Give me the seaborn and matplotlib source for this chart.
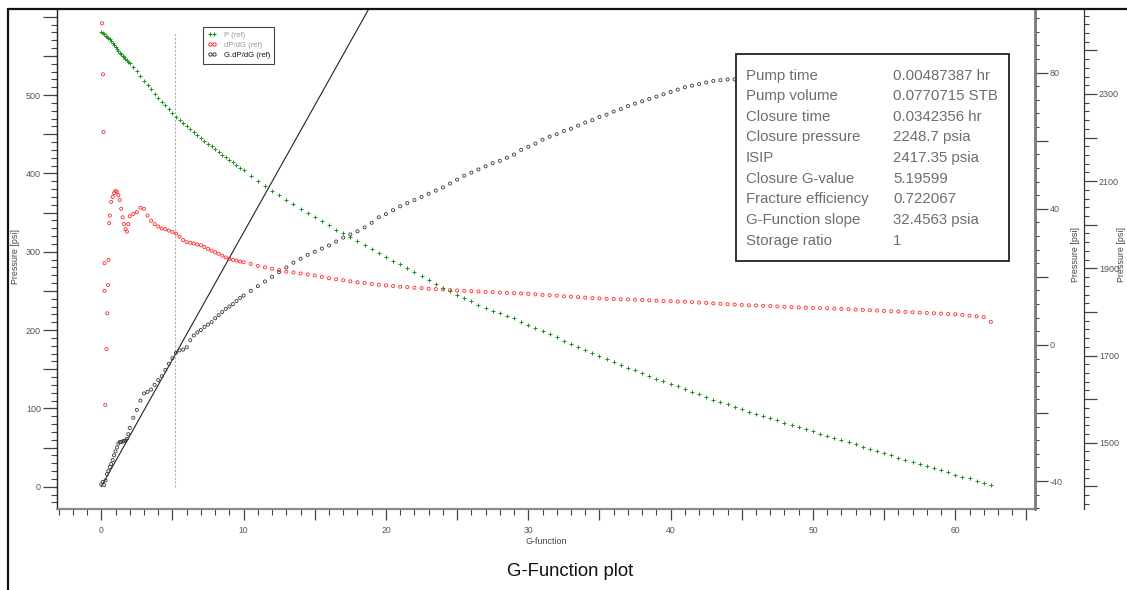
import numpy as np
import pandas as pd
import matplotlib
matplotlib.use("Agg")
import matplotlib.pyplot as plt
import seaborn as sns
from matplotlib.ticker import MultipleLocator, FuncFormatter
from matplotlib.lines import Line2D
from matplotlib.patches import Rectangle

# ---------------- data ----------------
g_values = [
    0.0, 0.1, 0.2, 0.3, 0.4, 0.5, 0.6, 0.7, 0.8, 0.9, 1.0, 1.1, 1.2, 1.3, 1.4, 1.5, 1.6, 1.7, 1.8, 1.9, 2.0,
    2.25, 2.5, 2.75, 3.0, 3.25, 3.5, 3.75, 4.0, 4.25, 4.5, 4.75, 5.0, 5.25, 5.5, 5.75, 6.0,
    6.25, 6.5, 6.75, 7.0, 7.25, 7.5, 7.75, 8.0, 8.25, 8.5, 8.75, 9.0, 9.25, 9.5, 9.75, 10.0,
    10.5, 11.0, 11.5, 12.0, 12.5, 13.0, 13.5, 14.0, 14.5, 15.0, 15.5, 16.0, 16.5, 17.0, 17.5, 18.0,
    18.5, 19.0, 19.5, 20.0, 20.5, 21.0, 21.5, 22.0, 22.5, 23.0, 23.5, 24.0, 24.5, 25.0, 25.5, 26.0,
    26.5, 27.0, 27.5, 28.0, 28.5, 29.0, 29.5, 30.0,
    30.5, 31.0, 31.5, 32.0, 32.5, 33.0, 33.5, 34.0, 34.5, 35.0, 35.5, 36.0, 36.5, 37.0, 37.5, 38.0,
    38.5, 39.0, 39.5, 40.0, 40.5, 41.0, 41.5, 42.0, 42.5, 43.0, 43.5, 44.0, 44.5, 45.0, 45.5, 46.0,
    46.5, 47.0, 47.5, 48.0, 48.5, 49.0, 49.5, 50.0, 50.5, 51.0, 51.5, 52.0, 52.5, 53.0, 53.5, 54.0,
    54.5, 55.0, 55.5, 56.0, 56.5, 57.0, 57.5, 58.0, 58.5, 59.0, 59.5, 60.0, 60.5, 61.0, 61.5, 62.0, 62.5,
]

# P (ref) [psi] - outer right axis
p_ref = [
    2442, 2440, 2437, 2434, 2431, 2428, 2426, 2421, 2417, 2412, 2408, 2403, 2399, 2395, 2391, 2388, 2385, 2380, 2377, 2374, 2371,
    2362, 2352, 2341, 2330, 2320, 2311, 2299, 2291, 2282, 2274, 2265, 2256, 2248, 2241, 2234, 2226,
    2219, 2212, 2205, 2199, 2193, 2186, 2180, 2174, 2167, 2161, 2155, 2149, 2143, 2137, 2131, 2125,
    2113, 2101, 2089, 2078, 2068, 2057, 2047, 2037, 2027, 2017, 2008, 1999, 1989, 1980, 1971, 1962,
    1953, 1944, 1935, 1926, 1917, 1909, 1900, 1891, 1882, 1873, 1865, 1856, 1848, 1840, 1832, 1824,
    1817, 1810, 1803, 1797, 1791, 1785, 1778, 1771,
    1764, 1757, 1749, 1742, 1734, 1727, 1720, 1712, 1705, 1698, 1692, 1685, 1679, 1672, 1666, 1660,
    1654, 1647, 1641, 1635, 1629, 1623, 1617, 1611, 1605, 1599, 1593, 1588, 1582, 1577, 1571, 1566,
    1561, 1556, 1551, 1546, 1541, 1536, 1531, 1526, 1521, 1516, 1511, 1506, 1501, 1496, 1491, 1486,
    1481, 1476, 1471, 1466, 1461, 1456, 1451, 1447, 1442, 1437, 1432, 1427, 1422, 1418, 1413, 1408, 1403,
]

# dP/dG (ref) - inner right axis
nan = float("nan")
dpdg_ref = [
    nan, nan, nan, nan, nan, nan, 38.0, 42.0, 43.5, 44.6, 45.2, 45.0, 44.0, 42.6, 40.0, 37.5, 35.5, 34.0, 33.3, 35.5, 37.8,
    38.5, 39.0, 40.3, 40.0, 38.0, 36.5, 35.5, 34.8, 34.2, 34.0, 33.6, 33.2, 32.7, 31.8, 30.8, 30.2,
    30.0, 29.8, 29.5, 29.3, 28.8, 28.2, 27.7, 27.2, 26.8, 26.2, 25.7, 25.3, 25.0, 24.8, 24.5, 24.3,
    23.8, 23.2, 22.8, 22.4, 22.0, 21.5, 21.3, 21.0, 20.7, 20.4, 20.0, 19.6, 19.3, 19.0, 18.7, 18.4,
    18.2, 17.9, 17.7, 17.5, 17.3, 17.1, 17.0, 16.8, 16.7, 16.5, 16.4, 16.3, 16.1, 16.0, 15.9, 15.8,
    15.7, 15.6, 15.5, 15.4, 15.3, 15.2, 15.1, 15.0,
    14.85, 14.7, 14.6, 14.45, 14.3, 14.2, 14.05, 13.9, 13.75, 13.65, 13.55, 13.5, 13.4, 13.35, 13.3, 13.2,
    13.1, 13.0, 12.9, 12.85, 12.75, 12.7, 12.55, 12.45, 12.35, 12.2, 12.1, 11.95, 11.85, 11.75, 11.65, 11.6,
    11.5, 11.4, 11.3, 11.2, 11.1, 11.0, 10.95, 10.9, 10.8, 10.75, 10.65, 10.6, 10.5, 10.4, 10.3, 10.2,
    10.1, 10.0, 9.9, 9.8, 9.7, 9.6, 9.5, 9.4, 9.3, 9.2, 9.1, 9.0, 8.8, 8.6, 8.4, 8.2, 6.8,
]
# scattered early dP/dG points
dpdg_early_g = [0.05, 0.12, 0.16, 0.23, 0.23, 0.28, 0.37, 0.42, 0.47, 0.51, 0.56]
dpdg_early_v = [94.5, 79.5, 62.6, 24.0, 15.9, -17.6, -1.2, 9.3, 17.6, 25.0, 35.8]

# G.dP/dG (ref) - left axis
gdpdg_ref = [
    3, 6, 2, 8, 16, 20, 25, 29, 34, 40, 45, 50, 55, 57, 57, 58, 58, 59, 61, 67, 75,
    88, 98, 110, 119, 121, 124, 130, 136, 141, 149, 157, 164, 171, 174, 175, 178,
    187, 193, 197, 200, 204, 207, 210, 215, 219, 223, 227, 230, 233, 237, 241, 244,
    250, 256, 262, 268, 274, 280, 286, 291, 296, 300, 304, 308, 313, 318, 322, 326,
    331, 337, 344, 348, 353, 358, 362, 366, 370, 374, 378, 382, 387, 392, 397, 401,
    405, 409, 413, 416, 420, 424, 430, 434,
    438, 443, 447, 450, 454, 457, 461, 465, 468, 472, 475, 479, 482, 486, 489, 492,
    495, 498, 501, 504, 507, 510, 512, 514, 516, 518, 519, 520, 520, 521, 522, 523,
    524, 525, 526, 527, 528, 528, 529, 530, 530, 531, 531, 532, 532, 532, 533, 533,
    533, 533, 533, 533, 533, 532, 532, 532, 531, 531, 530, 530, 529, 528, 527, 526, 420,
]

closure_g = 5.19599
gfunc_slope = 32.4563
slope_line_g = [0.0, 20.0]

info_labels = ["Pump time", "Pump volume", "Closure time", "Closure pressure", "ISIP",
               "Closure G-value", "Fracture efficiency", "G-Function slope", "Storage ratio"]
info_values = ["0.00487387 hr", "0.0770715 STB", "0.0342356 hr", "2248.7 psia", "2417.35 psia",
               "5.19599", "0.722067", "32.4563 psia", "1"]

legend_labels = ["P (ref)", "dP/dG (ref)", "G.dP/dG (ref)"]

# ---------------- styling ----------------
sns.set_style("white")
plt.rcParams["font.family"] = ["Liberation Sans", "DejaVu Sans"]

W, H = 1127, 590
fig = plt.figure(figsize=(W / 100, H / 100), dpi=100)


def fx(px):
    return px / W


def fy(py):
    return 1 - py / H


ax = fig.add_axes([fx(57), fy(509), fx(1035) - fx(57), fy(10) - fy(509)])
ax1 = ax.twinx()
ax2 = ax.twinx()

GREEN = "#1f8f1f"
RED = "#ff2a2a"
BLACK = "#3a3a3a"

df = pd.DataFrame({"G": g_values, "P": p_ref, "dPdG": dpdg_ref, "GdPdG": gdpdg_ref})
df_early = pd.DataFrame({"G": dpdg_early_g, "dPdG": dpdg_early_v})

# left axis: G.dP/dG + slope line + closure line
ax.plot(slope_line_g, [gfunc_slope * g for g in slope_line_g], color="#222222", lw=0.8, zorder=1)
ax.vlines(closure_g, 0, 580, colors="#b0b0b0", linestyles=(0, (2, 1.5)), lw=0.8, zorder=0)
sns.scatterplot(data=df, x="G", y="GdPdG", ax=ax, marker="o", s=5,
                facecolor="none", edgecolor=BLACK, linewidth=0.6, legend=False, zorder=3)

# inner right axis: dP/dG
sns.scatterplot(data=df.dropna(), x="G", y="dPdG", ax=ax1, marker="o", s=5,
                facecolor="none", edgecolor=RED, linewidth=0.6, legend=False)
sns.scatterplot(data=df_early, x="G", y="dPdG", ax=ax1, marker="o", s=5,
                facecolor="none", edgecolor=RED, linewidth=0.6, legend=False)

# outer right axis: P
sns.scatterplot(data=df, x="G", y="P", ax=ax2, marker="+", s=5,
                color=GREEN, linewidth=0.7, legend=False)

# limits
ax.set_xlim(-3.11, 65.6)
ax.set_ylim(-28.5, 608.6)
ax1.set_ylim(-48.2, 98.4)
ax2.set_ylim(1347.9, 2492.7)

for a in (ax, ax1, ax2):
    a.set_xlabel("")
    a.set_ylabel("")
    a.grid(False)

# spines
ax.spines["top"].set_visible(False)
ax.spines["right"].set_visible(False)
ax.spines["left"].set_color("#222222")
ax.spines["left"].set_linewidth(1.0)
ax.spines["bottom"].set_color("#8a8a8a")
ax.spines["bottom"].set_linewidth(1.6)
for a in (ax1, ax2):
    for s in ("top", "left", "bottom"):
        a.spines[s].set_visible(False)
ax1.spines["right"].set_color("#7a7a7a")
ax1.spines["right"].set_linewidth(2.0)
ax2.spines["right"].set_position(("axes", (1084.3 - 57) / (1035 - 57)))
ax2.spines["right"].set_color("#333333")
ax2.spines["right"].set_linewidth(0.9)

TICK_C = "#444444"
LAB_C = "#555555"

# x axis ticks
ax.xaxis.set_major_locator(MultipleLocator(5))
ax.xaxis.set_minor_locator(MultipleLocator(1))
ax.xaxis.set_major_formatter(FuncFormatter(lambda v, p: f"{v:.0f}" if abs(v % 10) < 1e-6 else ""))
ax.tick_params(axis="x", which="major", direction="out", length=8, width=0.9, color=TICK_C,
               labelsize=6.2, labelcolor=LAB_C, pad=4, bottom=True)
ax.tick_params(axis="x", which="minor", direction="out", length=4, width=0.8, color=TICK_C, bottom=True)

# left y axis ticks
ax.yaxis.set_major_locator(MultipleLocator(50))
ax.yaxis.set_minor_locator(MultipleLocator(10))
ax.yaxis.set_major_formatter(FuncFormatter(
    lambda v, p: f"{v:.0f}" if (abs(v % 100) < 1e-6 and v < 550) else ""))
ax.tick_params(axis="y", which="major", direction="out", length=10, width=0.9, color=TICK_C,
               labelsize=6.5, labelcolor=LAB_C, pad=1.5, left=True)
ax.tick_params(axis="y", which="minor", direction="out", length=4, width=0.8, color=TICK_C, left=True)

# inner right axis ticks
ax1.yaxis.set_major_locator(MultipleLocator(20))
ax1.yaxis.set_minor_locator(MultipleLocator(4))
ax1.yaxis.set_major_formatter(FuncFormatter(lambda v, p: f"{v:.0f}" if abs(v % 40) < 1e-6 else ""))
ax1.tick_params(axis="y", which="major", direction="out", length=9, width=0.9, color=TICK_C,
                labelsize=6.5, labelcolor=LAB_C, pad=1.5, right=True)
ax1.tick_params(axis="y", which="minor", direction="out", length=3, width=0.8, color=TICK_C, right=True)

# outer right axis ticks
ax2.yaxis.set_major_locator(MultipleLocator(100))
ax2.yaxis.set_minor_locator(MultipleLocator(20))
ax2.yaxis.set_major_formatter(FuncFormatter(lambda v, p: f"{v:.0f}" if abs((v - 1500) % 200) < 1e-6 else ""))
ax2.tick_params(axis="y", which="major", direction="out", length=9, width=0.9, color=TICK_C,
                labelsize=6.5, labelcolor=LAB_C, pad=1.5, right=True)
ax2.tick_params(axis="y", which="minor", direction="out", length=3.5, width=0.8, color=TICK_C, right=True)

# axis labels & title
fig.text(fx(15), fy(256), "Pressure [psi]", rotation=90, ha="center", va="center", fontsize=6.4, color="#444444")
fig.text(fx(1075), fy(255), "Pressure [psi]", rotation=90, ha="center", va="center", fontsize=6.4, color="#444444")
fig.text(fx(1122), fy(255), "Pressure [psi]", rotation=90, ha="center", va="center", fontsize=6.4, color="#444444")
fig.text(fx(546), fy(542), "G-function", ha="center", va="center", fontsize=6.4, color="#444444")
fig.text(fx(570), fy(571), "G-Function plot", ha="center", va="center", fontsize=13.3, color="#111111")

# outer frame
fig.add_artist(Line2D([fx(8), fx(8)], [0, fy(9)], transform=fig.transFigure, color="#111111", lw=1.6))
fig.add_artist(Line2D([fx(8), 1], [fy(9), fy(9)], transform=fig.transFigure, color="#111111", lw=1.6))

# legend
handles = [
    Line2D([], [], ls="none", marker="+", color=GREEN, ms=2.8, mew=0.8),
    Line2D([], [], ls="none", marker="o", mfc="none", mec=RED, ms=2.4, mew=0.7),
    Line2D([], [], ls="none", marker="o", mfc="none", mec=BLACK, ms=2.4, mew=0.7),
]
leg = fig.legend(handles, legend_labels, loc="upper left", bbox_to_anchor=(fx(203), fy(27)),
                 bbox_transform=fig.transFigure, fontsize=5.5, numpoints=2, frameon=True,
                 fancybox=False, edgecolor="#444444", framealpha=1, borderpad=0.6,
                 labelspacing=0.35, handlelength=1.2, handletextpad=0.9, borderaxespad=0)
leg.get_frame().set_linewidth(0.8)
for t, c in zip(leg.get_texts(), ["#9a9a9a", "#9a9a9a", "#111111"]):
    t.set_color(c)

# info box
fig.add_artist(Rectangle((fx(736), fy(261)), fx(1009) - fx(736), fy(54) - fy(261),
                         transform=fig.transFigure, facecolor="white", edgecolor="#222222",
                         lw=1.3, zorder=5))
row_y = [75.7, 96.3, 117, 137.3, 158.3, 179, 199.3, 220, 240.7]
for lab, val, yy in zip(info_labels, info_values, row_y):
    fig.text(fx(746), fy(yy), lab, ha="left", va="center", fontsize=10.8, color="#6e6e6e", zorder=6)
    fig.text(fx(893), fy(yy), val, ha="left", va="center", fontsize=10.8, color="#6e6e6e", zorder=6)

fig.savefig("out.png", dpi=100)
